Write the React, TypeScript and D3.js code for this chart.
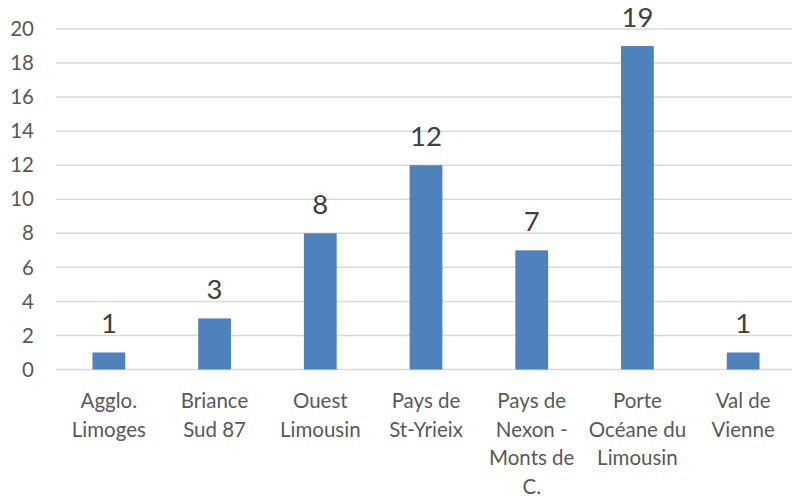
import React from "react";
import * as d3 from "d3";

const categories: string[][] = [
  ["Agglo.", "Limoges"],
  ["Briance", "Sud 87"],
  ["Ouest", "Limousin"],
  ["Pays de", "St-Yrieix"],
  ["Pays de", "Nexon -", "Monts de", "C."],
  ["Porte", "Océane du", "Limousin"],
  ["Val de", "Vienne"],
];
const values: number[] = [1, 3, 8, 12, 7, 19, 1];
const yTicks: number[] = [0, 2, 4, 6, 8, 10, 12, 14, 16, 18, 20];

const W = 792;
const H = 497;
const left = 56;
const right = 796;
const top = 29;
const bottom = 369.5;

export default function App() {
  const keys = categories.map((c, i) => String(i));
  const x = d3.scaleBand<string>().domain(keys).range([left, right]).paddingInner(0.69).paddingOuter(0.345);
  const y = d3.scaleLinear().domain([0, 20]).range([bottom, top]);
  const font = "Lato, 'Open Sans', sans-serif";
  return (
    <svg width={W} height={H} style={{ position: "absolute", left: 0, top: 0, background: "#fff" }}>
      {yTicks.map((t) => (
        <g key={t}>
          <line x1={left} x2={W} y1={y(t)} y2={y(t)} stroke="#d9d9d9" strokeWidth={1.5} />
          <text x={34} y={y(t)} dy="0.35em" textAnchor="end" fontFamily={font} fontSize={20.5} fill="#595959">
            {t}
          </text>
        </g>
      ))}
      {values.map((v, i) => {
        const bx = x(String(i))!;
        const bw = x.bandwidth();
        const cx = bx + bw / 2;
        return (
          <g key={i}>
            <rect x={bx} y={y(v)} width={bw} height={y(0) - y(v)} fill="#4f81bd" />
            <text x={cx} y={y(v) - 19} textAnchor="middle" fontFamily={font} fontSize={27.5} fill="#404040">
              {v}
            </text>
            {categories[i].map((line, j) => (
              <text key={j} x={cx} y={408 + j * 28.5} textAnchor="middle" fontFamily={font} fontSize={20.5} fill="#595959">
                {line}
              </text>
            ))}
          </g>
        );
      })}
    </svg>
  );
}
